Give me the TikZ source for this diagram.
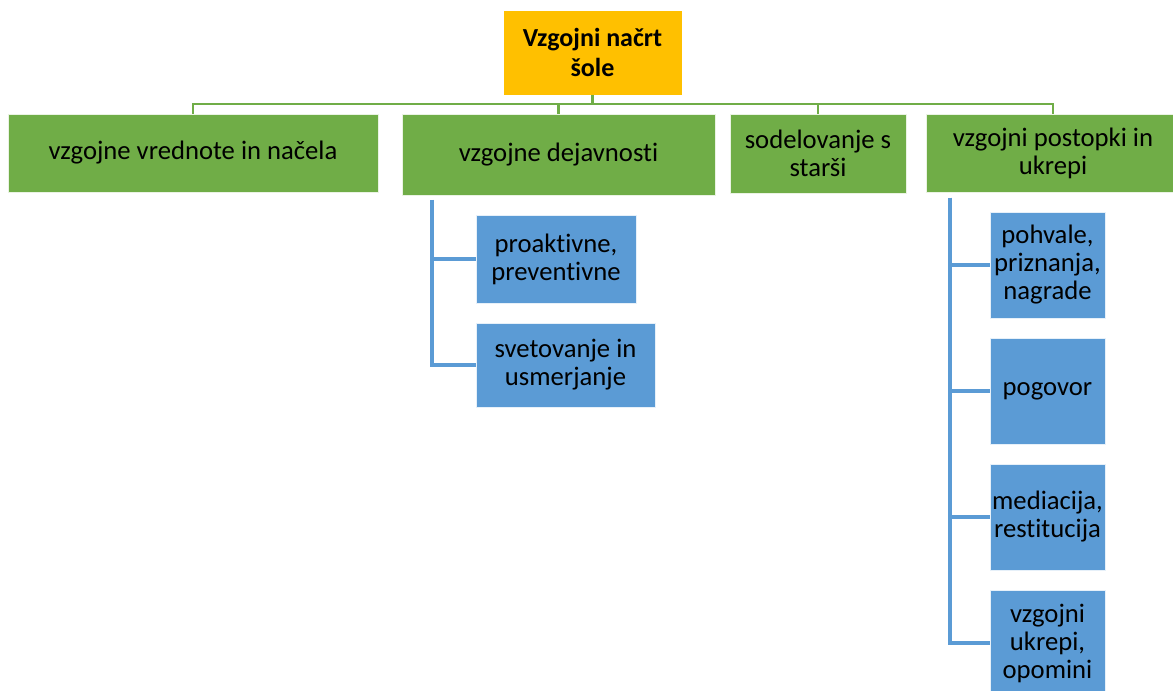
\documentclass[tikz,border=0pt]{standalone}
\usepackage{fontspec}
\setmainfont{Carlito}[Ligatures={NoCommon}]
\usepackage{tikz}
\usetikzlibrary{positioning}

\definecolor{topfill}{HTML}{FFC000}
\definecolor{grnfill}{HTML}{70AD47}
\definecolor{blufill}{HTML}{5B9BD5}

\begin{document}
\begin{tikzpicture}[x=0.75pt,y=-0.75pt,
  topbox/.style={fill=topfill, draw=white, line width=0.6pt, align=center, font=\fontsize{19.5}{22.5}\selectfont\bfseries, inner sep=0pt},
  grnbox/.style={fill=grnfill, draw=white!85!grnfill, line width=0.6pt, align=center, font=\fontsize{20}{21}\selectfont, inner sep=0pt},
  blubox/.style={fill=blufill, draw=white!85!blufill, line width=0.6pt, align=center, font=\fontsize{20}{21}\selectfont, inner sep=0pt, minimum width=86.25pt, minimum height=79.5pt},
  gline/.style={draw=grnfill, line width=2.2pt},
  bline/.style={draw=blufill, line width=2.4pt}]
\useasboundingbox (0,0) rectangle (1173,691);

%Top: Vzgojni nacrt
\node[topbox, minimum width=134.25pt, minimum height=63.75pt] (top) at (592.5,52.5) {Vzgojni načrt\\šole};

%Level 1
\node[grnbox, minimum width=277.5pt, minimum height=58.5pt] (vred) at (193,153) {vzgojne vrednote in načela};
\node[grnbox, minimum width=234.75pt, minimum height=60.75pt] (dej) at (558.5,154.5) {vzgojne dejavnosti};
\node[grnbox, minimum width=132pt, minimum height=59.25pt] (star) at (818,153.5) {sodelovanje s\\starši};
\node[grnbox, minimum width=190.5pt, minimum height=58.5pt] (post) at (1053,153) {vzgojni postopki in\\ukrepi};

%Level 2: dejavnosti
\node[blubox, minimum width=120pt, minimum height=66pt] (proak) at (556,259) {proaktivne,\\preventivne};
\node[blubox, minimum width=134.25pt, minimum height=63pt] (svet) at (565.5,365) {svetovanje in\\usmerjanje};

%Level 2: postopki
\node[blubox] (pohv) at (1047.5,265) {pohvale,\\priznanja,\\nagrade};
\node[blubox] (pogo) at (1047.5,391) {pogovor};
\node[blubox] (medi) at (1047.5,517) {mediacija,\\restitucija};
\node[blubox] (ukre) at (1047.5,643) {vzgojni\\ukrepi,\\opomini};

%Connectors
\coordinate (bus) at (593,104);
\draw[gline] (top.south) -- (top.south |- bus);
\foreach \n in {vred,dej,star,post}
  \draw[gline] (top.south |- bus) -| (\n.north);

\coordinate (s2) at (432,200);
\coordinate (s4) at (950,198);
\draw[bline] (s2) |- (proak.west);
\draw[bline] (s2) |- (svet.west);
\foreach \n in {pohv,pogo,medi,ukre}
  \draw[bline] (s4) |- (\n.west);
\end{tikzpicture}
\end{document}
